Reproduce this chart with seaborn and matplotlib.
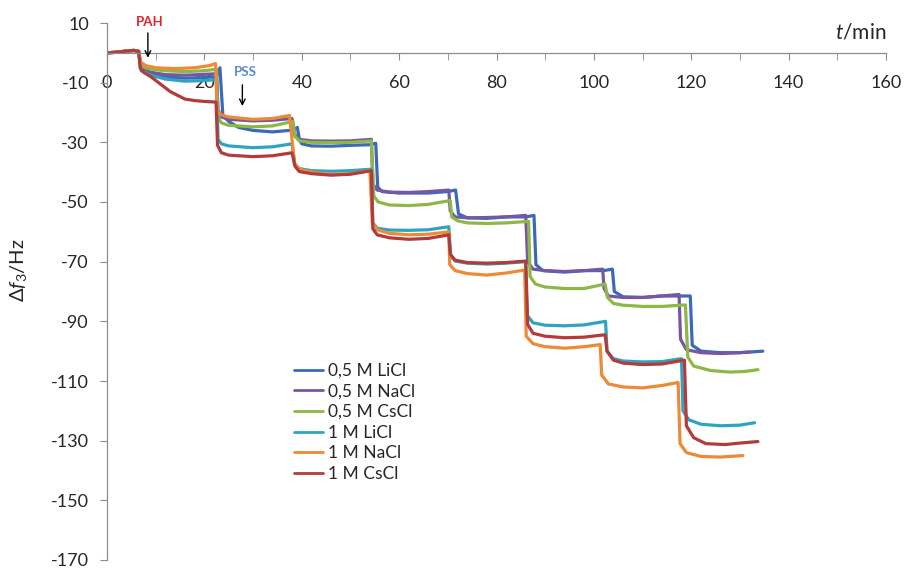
import matplotlib
matplotlib.use("Agg")
import matplotlib.pyplot as plt
import seaborn as sns
import pandas as pd
from matplotlib.lines import Line2D

# ---------------- data ----------------
series_names = ["0,5 M LiCl", "0,5 M NaCl", "0,5 M CsCl", "1 M LiCl", "1 M NaCl", "1 M CsCl"]
series_colors = ["#3C6AB8", "#7657A4", "#8DB845", "#2FA3C2", "#EE8A35", "#B33B3A"]

start_t = [0, 2, 4, 5.5, 6.5]
start_f = [0, 0.2, 0.6, 0.8, 0.5]

li05_t = start_t + [7.0, 7.5, 9, 12, 16, 20, 22.5, 23.2, 23.8, 25, 27, 30, 34, 37.5, 38.6, 39.1, 39.5, 40, 42, 46, 50, 54, 55.2,
                    55.6, 56.5, 60, 66, 70, 71.6, 72.2, 74, 78, 82, 86, 87.7, 88.1, 89.5, 94, 98, 102, 103.8, 104.2, 106, 110, 114,
                    119.8, 120.2, 122, 126, 130, 134.7]
li05_f = start_f + [-4.5, -5.5, -7, -8, -8.5, -8.3, -8, -5, -21, -23, -25, -26, -26.5, -26, -25.5, -25, -29, -30.5, -31.2, -31.3, -31, -30.8, -30.3,
                    -45, -46.5, -47, -47, -46.5, -46, -54, -55.3, -55.5, -55, -55, -54.5, -71, -73, -73.5, -73, -73, -72.5, -80, -81.8, -82, -81.5,
                    -81.5, -98, -100, -100.5, -100.5, -100]

na05_t = start_t + [7.0, 9, 12, 16, 20, 22.5, 22.8, 23.5, 25, 30, 34, 38, 38.6, 39.5, 42, 46, 50, 54.3, 54.6, 55.5, 58, 62, 66, 70.2,
                    70.5, 71.5, 74, 78, 82, 86, 86.4, 87.5, 90, 94, 98, 101.8, 102.1, 103, 106, 110, 114, 117.5, 117.8, 119, 122, 126, 130, 132]
na05_f = start_f + [-5, -6.5, -7.3, -7.5, -7.2, -7, -19, -21.5, -22.3, -22.8, -22.6, -22, -27.5, -29, -29.5, -29.6, -29.5, -29, -44, -46, -46.7, -46.8, -46.5, -46,
                    -53, -55, -55.3, -55.2, -55, -54.5, -70, -72.5, -73, -73.3, -73, -72.5, -79, -81.5, -82, -82, -81.5, -81, -96, -99.5, -100.5, -100.8, -100.5, -100.3]

cs05_t = start_t + [7.0, 9, 12, 16, 20, 22.5, 22.8, 23.5, 25, 30, 34, 38.2, 38.6, 39.5, 42, 46, 50, 54.3, 54.8, 55.7, 58, 62, 66, 70.5,
                    70.8, 72, 74, 78, 82, 86.6, 86.9, 88, 90, 94, 98, 102.3, 102.8, 104, 106, 110, 114, 118.8, 119.3, 120.5, 124, 128, 131, 133.7]
cs05_f = start_f + [-4.5, -5.5, -6, -6.3, -6, -5.5, -21.5, -23.5, -24.3, -24.8, -24.5, -23, -28, -29.5, -30, -30.1, -30, -29.5, -48, -50, -51, -51.2, -50.8, -49.5,
                    -55, -56.3, -57, -57.2, -57, -56.5, -75, -77.5, -78.5, -79, -79, -77.5, -82, -84, -84.6, -85, -85, -84.5, -102, -105, -106.5, -107, -106.8, -106.2]

li1_t = start_t + [7.0, 9, 12, 16, 20, 22.5, 22.8, 23.5, 25, 30, 34, 38, 38.6, 39.5, 42, 46, 50, 54.3, 54.6, 55.5, 58, 62, 66, 70.2,
                   70.6, 71.5, 74, 78, 82, 86, 86.3, 87.5, 90, 94, 98, 102.4, 102.7, 104, 106, 110, 114, 118, 118.3, 119.5, 122, 126, 130, 133]
li1_f = start_f + [-6, -7.5, -8.8, -9.5, -9.3, -9, -29, -30.5, -31.2, -31.8, -31.5, -30.5, -37.5, -38.8, -39.5, -39.7, -39.5, -39, -57, -58.8, -59.4, -59.5, -59.3, -58.3,
                   -68, -69.8, -70.5, -70.8, -70.5, -70, -88, -90.5, -91.3, -91.5, -91.2, -90, -100, -102.5, -103.3, -103.6, -103.5, -102.5, -120, -123, -124.5, -125, -124.8, -124]

na1_t = start_t + [6.8, 8, 10, 14, 18, 21, 22.3, 22.6, 23.5, 25, 30, 34, 37.5, 38.5, 39.5, 42, 46, 50, 54, 54.5, 55.5, 58, 62, 66, 70.2,
                   70.4, 71.5, 74, 78, 82, 85.8, 86.1, 87.5, 90, 94, 98, 101.3, 101.6, 103, 106, 110, 114, 117.3, 117.7, 119, 122, 126, 130.6]
na1_f = start_f + [-3, -4.3, -5, -5.3, -5, -4.3, -3.6, -19.5, -20.8, -21.5, -22.3, -22, -21, -37, -39, -40, -40.8, -40.5, -39.5, -57, -59.3, -60.5, -61, -60.8, -60,
                   -71, -73, -74, -74.5, -73.8, -72.8, -95, -97.5, -98.5, -99, -98.5, -97.8, -108, -111, -112, -112.3, -111.5, -110.5, -131, -134, -135.3, -135.5, -135]

cs1_t = start_t + [6.8, 7.5, 9, 11, 13, 16, 18, 20, 22.4, 22.7, 23.5, 25, 30, 34, 38, 38.6, 39.5, 42, 46, 50, 54.3, 54.6, 55.5, 58, 62, 66, 70.2,
                   70.5, 71.5, 74, 78, 82, 86, 86.4, 87.5, 90, 94, 98, 102.3, 102.7, 104, 106, 110, 114, 118.6, 119, 120.5, 123, 127, 130, 133.7]
cs1_f = start_f + [-5, -6.5, -8, -10.5, -13, -15.5, -16, -16.3, -16.5, -31, -33.5, -34.3, -34.8, -34.5, -33.5, -38, -39.8, -40.5, -41, -40.7, -39.5, -59, -61, -62, -62.5, -62.2, -61,
                   -67.5, -69.5, -70.3, -70.5, -70.3, -69.8, -91, -94, -95, -95.5, -95.3, -94.5, -100, -103, -104, -104.5, -104.3, -103, -125, -129, -131, -131.3, -130.8, -130.3]

all_t = [li05_t, na05_t, cs05_t, li1_t, na1_t, cs1_t]
all_f = [li05_f, na05_f, cs05_f, li1_f, na1_f, cs1_f]

x_ticks = list(range(0, 161, 20))
y_ticks = list(range(10, -171, -20))

# ---------------- figure ----------------
sns.set_style("white")
plt.rcParams["font.family"] = ["Lato", "DejaVu Sans"]
plt.rcParams["mathtext.fontset"] = "custom"
plt.rcParams["mathtext.rm"] = "Lato"
plt.rcParams["mathtext.it"] = "Lato:italic"
plt.rcParams["axes.unicode_minus"] = False

frames = []
for name, t, f in zip(series_names, all_t, all_f):
    frames.append(pd.DataFrame({"t": t, "f": f, "series": name}))
df = pd.concat(frames, ignore_index=True)

fig = plt.figure(figsize=(9.07, 5.69), dpi=100)
ax = fig.add_axes([107 / 907, 1 - 560 / 569, (886 - 107) / 907, (560 - 23) / 569])

sns.lineplot(data=df, x="t", y="f", hue="series", hue_order=series_names,
             palette=series_colors, sort=False, estimator=None, linewidth=2.3,
             legend=False, ax=ax)

ax.set_xlim(0, 160)
ax.set_ylim(-170, 10)
ax.set_xticks(x_ticks)
ax.set_xticks(list(range(0, 161, 10)), minor=True)
ax.set_yticks(y_ticks)
ax.set_xlabel("")
ax.set_ylabel(r"$\Delta f_3$/Hz", fontsize=14.5)
ax.yaxis.set_label_coords(-0.1, 0.54)

for s in ["top", "right"]:
    ax.spines[s].set_visible(False)
ax.spines["bottom"].set_position(("data", 0))
ax.spines["bottom"].set_color("#8C8C8C")
ax.spines["left"].set_color("#8C8C8C")
ax.spines["bottom"].set_linewidth(0.9)
ax.spines["left"].set_linewidth(0.9)

ax.tick_params(axis="x", which="both", direction="out", length=5, color="#8C8C8C",
               labelsize=13, pad=11, bottom=True)
ax.tick_params(axis="y", direction="out", length=5, color="#8C8C8C", labelsize=13, pad=8, left=True)

ax.text(1.0, 0.983, r"$t$/min", transform=ax.transAxes, ha="right", va="center", fontsize=15)

# annotations
ax.annotate("", xy=(8.4, -2.6), xytext=(8.4, 7.6),
            arrowprops=dict(arrowstyle="->", color="black", lw=1.0))
ax.text(8.7, 10.3, "PAH", color="#E3232B", fontsize=9.5, fontweight="bold", ha="center", va="center")
ax.annotate("", xy=(27.8, -18.8), xytext=(27.8, -9.8),
            arrowprops=dict(arrowstyle="->", color="black", lw=1.0))
ax.text(28.4, -6.4, "PSS", color="#5B8BC9", fontsize=9.5, fontweight="bold", ha="center", va="center")

handles = [Line2D([0], [0], color=c, lw=2) for c in series_colors]
ax.legend(handles, series_names, loc="upper left", bbox_to_anchor=(0.224, 0.39),
          frameon=False, fontsize=12.5, handlelength=1.7, handletextpad=0.3,
          labelspacing=0.27, borderpad=0.2)

fig.savefig("out.png", dpi=100)
